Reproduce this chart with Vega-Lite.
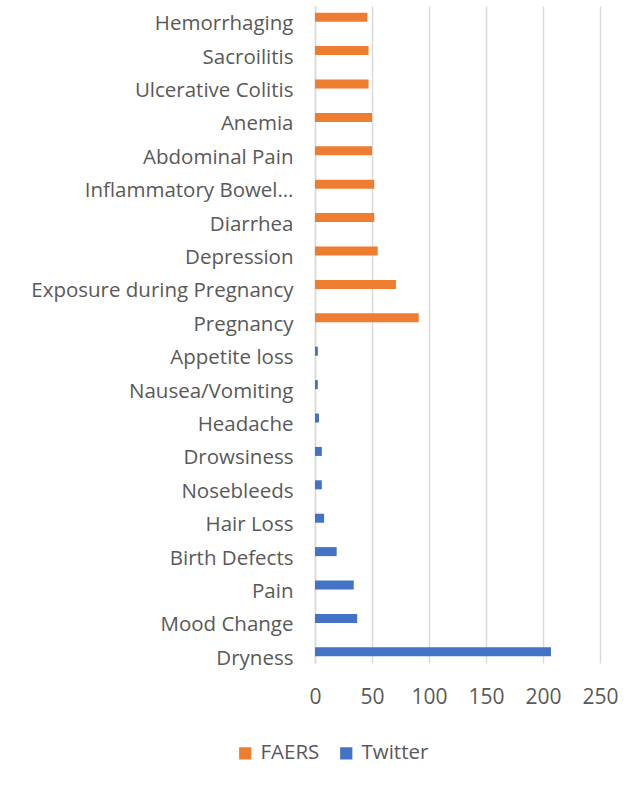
{
  "$schema": "https://vega.github.io/schema/vega-lite/v6.json",
  "autosize": "none",
  "width": 285,
  "height": 657,
  "padding": {"left": 315, "top": 6, "right": 34, "bottom": 133},
  "background": "white",
  "data": {
    "values": [
      {"symptom": "Hemorrhaging", "source": "FAERS", "count": 46},
      {"symptom": "Sacroilitis", "source": "FAERS", "count": 47},
      {"symptom": "Ulcerative Colitis", "source": "FAERS", "count": 47},
      {"symptom": "Anemia", "source": "FAERS", "count": 50},
      {"symptom": "Abdominal Pain", "source": "FAERS", "count": 50},
      {"symptom": "Inflammatory Bowel Disease", "source": "FAERS", "count": 52},
      {"symptom": "Diarrhea", "source": "FAERS", "count": 52},
      {"symptom": "Depression", "source": "FAERS", "count": 55},
      {"symptom": "Exposure during Pregnancy", "source": "FAERS", "count": 71},
      {"symptom": "Pregnancy", "source": "FAERS", "count": 91},
      {"symptom": "Appetite loss", "source": "Twitter", "count": 2.5},
      {"symptom": "Nausea/Vomiting", "source": "Twitter", "count": 2.5},
      {"symptom": "Headache", "source": "Twitter", "count": 3.5},
      {"symptom": "Drowsiness", "source": "Twitter", "count": 6},
      {"symptom": "Nosebleeds", "source": "Twitter", "count": 6},
      {"symptom": "Hair Loss", "source": "Twitter", "count": 8},
      {"symptom": "Birth Defects", "source": "Twitter", "count": 19},
      {"symptom": "Pain", "source": "Twitter", "count": 34},
      {"symptom": "Mood Change", "source": "Twitter", "count": 37},
      {"symptom": "Dryness", "source": "Twitter", "count": 207}
    ]
  },
  "mark": {"type": "bar"},
  "encoding": {
    "y": {
      "field": "symptom",
      "type": "nominal",
      "sort": null,
      "scale": {"paddingInner": 0.73, "paddingOuter": 0.2},
      "axis": {
        "title": null,
        "ticks": false,
        "domainColor": "#d9d9d9",
        "domainWidth": 1.5,
        "labelFont": "Open Sans",
        "labelFontSize": 20.5,
        "labelColor": "#595959",
        "labelPadding": 22,
        "labelOffset": 7,
        "labelLimit": 400,
        "labelExpr": "datum.label == 'Inflammatory Bowel Disease' ? 'Inflammatory Bowel…' : datum.label"
      }
    },
    "x": {
      "field": "count",
      "type": "quantitative",
      "scale": {"domain": [0, 250]},
      "axis": {
        "title": null,
        "values": [0, 50, 100, 150, 200, 250],
        "domain": false,
        "ticks": false,
        "grid": true,
        "gridColor": "#d9d9d9",
        "gridWidth": 1.5,
        "labelFlush": false,
        "labelFont": "Open Sans",
        "labelFontSize": 21,
        "labelColor": "#595959",
        "labelPadding": 23
      }
    },
    "color": {
      "field": "source",
      "type": "nominal",
      "scale": {"domain": ["FAERS", "Twitter"], "range": ["#ED7D31", "#4472C4"]},
      "legend": {
        "title": null,
        "orient": "none",
        "direction": "horizontal",
        "legendX": -80,
        "legendY": 737,
        "symbolType": "square",
        "symbolSize": 150,
        "symbolStrokeWidth": 0,
        "labelFont": "Open Sans",
        "labelFontSize": 20.5,
        "labelColor": "#595959",
        "labelOffset": 5,
        "columnPadding": 16
      }
    }
  },
  "config": {"view": {"stroke": null}}
}
